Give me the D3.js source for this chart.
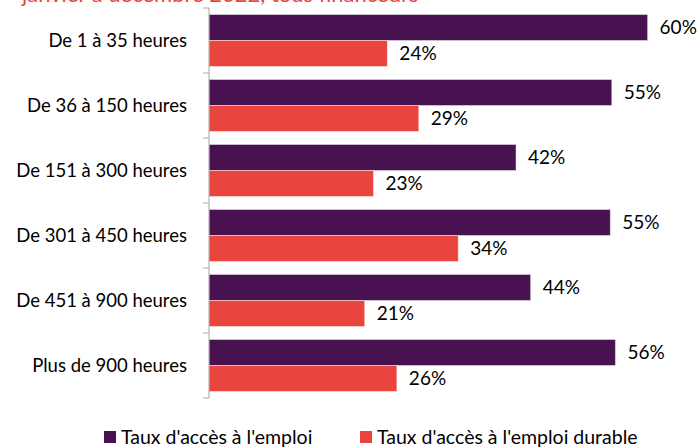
<!DOCTYPE html>
<html>
<head>
<meta charset="utf-8">
<script src="https://cdn.jsdelivr.net/npm/d3@7"></script>
<style>
  body { margin: 0; background: #fff; }
  svg text { font-family: Lato, "Open Sans", sans-serif; fill: #000; }
</style>
</head>
<body>
<div id="chart"></div>
<script>
// Taux d'accès à l'emploi par durée de formation
const categories = [
  "De 1 à 35 heures",
  "De 36 à 150 heures",
  "De 151 à 300 heures",
  "De 301 à 450 heures",
  "De 451 à 900 heures",
  "Plus de 900 heures",
];
const seriesNames = ["Taux d'accès à l'emploi", "Taux d'accès à l'emploi durable"];
const emploi = [0.600, 0.551, 0.420, 0.549, 0.440, 0.556];
const emploiDurable = [0.244, 0.287, 0.225, 0.341, 0.213, 0.257];
const colors = ["#47124f", "#e9443e"];
const title = "janvier à décembre 2022, tous financeurs";

const width = 700;
const height = 448;
const margin = { top: 8, right: 0, bottom: 50, left: 209 };

const svg = d3.select("#chart").append("svg")
  .attr("width", width)
  .attr("height", height);

// title, cut by the top edge like in the source
svg.append("text")
  .attr("x", 22)
  .attr("y", 2)
  .style("font-size", "22px")
  .style("fill", "#e9443e")
  .text(title);

const y = d3.scaleBand()
  .domain(categories)
  .range([margin.top, height - margin.bottom])
  .paddingInner(0.2)
  .paddingOuter(0.1);

const ySub = d3.scaleBand()
  .domain([0, 1])
  .range([0, y.bandwidth()]);

const x = d3.scaleLinear()
  .domain([0, 0.7])
  .range([margin.left, margin.left + 0.7 * 731]);

const fmt = d3.format(".0%");

const rows = categories.map((c, i) => ({ cat: c, values: [emploi[i], emploiDurable[i]] }));

const groups = svg.selectAll("g.row")
  .data(rows)
  .join("g")
  .attr("class", "row")
  .attr("transform", (d) => `translate(0, ${y(d.cat)})`);

groups.selectAll("rect")
  .data((d) => d.values.map((v, s) => ({ v, s })))
  .join("rect")
  .attr("x", x(0))
  .attr("y", (d) => ySub(d.s))
  .attr("width", (d) => x(d.v) - x(0))
  .attr("height", ySub.bandwidth())
  .attr("fill", (d) => colors[d.s])
  .attr("stroke", "#ffffff")
  .attr("stroke-opacity", 0.45)
  .attr("stroke-width", 1);

groups.selectAll("text.val")
  .data((d) => d.values.map((v, s) => ({ v, s })))
  .join("text")
  .attr("class", "val")
  .attr("x", (d) => x(d.v) + 12)
  .attr("y", (d) => ySub(d.s) + ySub.bandwidth() / 2)
  .attr("dy", "0.36em")
  .style("font-size", "19px")
  .text((d) => fmt(d.v));

// category axis
const axisG = svg.append("g")
  .attr("transform", `translate(${margin.left}, 0)`);
axisG.append("line")
  .attr("x1", 0).attr("x2", 0)
  .attr("y1", margin.top).attr("y2", height - margin.bottom)
  .attr("stroke", "#a6a6a6");
// tick marks between categories
const bounds = d3.range(categories.length + 1).map((i) => margin.top + i * y.step());
axisG.selectAll("line.tick")
  .data(bounds)
  .join("line")
  .attr("class", "tick")
  .attr("x1", -6).attr("x2", 0)
  .attr("y1", (d) => d).attr("y2", (d) => d)
  .attr("stroke", "#a6a6a6");
axisG.selectAll("text.cat")
  .data(categories)
  .join("text")
  .attr("class", "cat")
  .attr("x", -22)
  .attr("y", (d) => y(d) + y.bandwidth() / 2)
  .attr("dy", "0.36em")
  .attr("text-anchor", "end")
  .style("font-size", "18.5px")
  .text((d) => d);

// legend
const legendX = [104, 360];
const legend = svg.selectAll("g.legend")
  .data(seriesNames)
  .join("g")
  .attr("class", "legend")
  .attr("transform", (d, i) => `translate(${legendX[i]}, 437)`);
legend.append("rect")
  .attr("x", 0).attr("y", -6)
  .attr("width", 12).attr("height", 12)
  .attr("fill", (d, i) => colors[i]);
legend.append("text")
  .attr("x", 17)
  .attr("dy", "0.36em")
  .style("font-size", "19.5px")
  .text((d) => d);
</script>
</body>
</html>
